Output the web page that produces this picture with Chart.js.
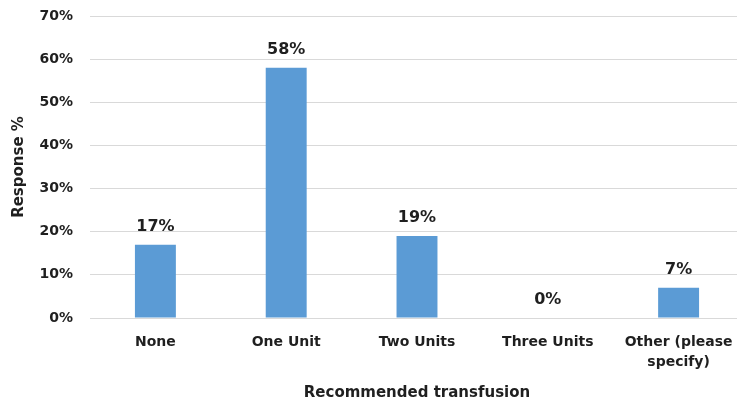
<!DOCTYPE html>
<html>
<head>
<meta charset="utf-8">
<script src="https://cdn.jsdelivr.net/npm/chart.js@4"></script>
<style>
html,body{margin:0;padding:0;overflow:hidden;background:#fff;}
#wrap{width:744px;height:403px;}
</style>
</head>
<body>
<div id="wrap"><canvas id="c" width="744" height="403"></canvas></div>
<script>
const categories = ["None", "One Unit", "Two Units", "Three Units", ["Other (please", "specify)"]];
const responsePct = [17, 58, 19, 0, 7];
const yTicks = [0, 10, 20, 30, 40, 50, 60, 70];

const FONT = "'DejaVu Sans', Verdana, sans-serif";
const TXT = '#1f1f1f';

const labelPlugin = {
  id: 'barLabels',
  afterDatasetsDraw(chart) {
    const ctx = chart.ctx;
    const meta = chart.getDatasetMeta(0);
    ctx.save();
    ctx.font = "bold 16px " + FONT;
    ctx.fillStyle = TXT;
    ctx.textAlign = 'center';
    ctx.textBaseline = 'alphabetic';
    meta.data.forEach((bar, i) => {
      ctx.fillText(responsePct[i] + '%', bar.x, bar.y - 14);
    });
    ctx.restore();
  }
};

new Chart(document.getElementById('c'), {
  type: 'bar',
  data: {
    labels: categories,
    datasets: [{
      data: responsePct,
      backgroundColor: '#5B9BD5',
      borderWidth: 0,
      categoryPercentage: 1,
      barPercentage: 0.313
    }]
  },
  options: {
    responsive: false,
    animation: false,
    devicePixelRatio: 1,
    layout: { padding: { top: 16, right: 0, left: 0, bottom: 0 } },
    plugins: { legend: { display: false }, tooltip: { enabled: false } },
    scales: {
      x: {
        grid: { display: false, drawTicks: false },
        border: { display: false },
        ticks: {
          color: TXT,
          font: { family: FONT, size: 14, weight: 'bold', lineHeight: 1.4 },
          padding: 15,
          maxRotation: 0,
          autoSkip: false
        },
        title: {
          display: true,
          text: 'Recommended transfusion',
          color: TXT,
          font: { family: FONT, size: 15, weight: 'bold' },
          padding: { top: 4, bottom: 1 }
        },
        afterFit(scale) { scale.height = 85; scale.paddingLeft = 0; scale.paddingRight = 0; }
      },
      y: {
        min: 0, max: 70,
        afterBuildTicks(scale) { scale.ticks = yTicks.map(v => ({ value: v })); },
        grid: { color: '#d9d9d9', lineWidth: 1, drawTicks: false },
        border: { display: false },
        ticks: {
          color: TXT,
          font: { family: FONT, size: 14, weight: 'bold' },
          padding: 17,
          callback: v => v + '%'
        },
        title: {
          display: true,
          text: 'Response %',
          color: TXT,
          font: { family: FONT, size: 15, weight: 'bold' },
          padding: { top: 10, bottom: 0 }
        },
        afterFit(scale) { scale.width = 90; scale.paddingTop = 0; scale.paddingBottom = 0; }
      }
    }
  },
  plugins: [labelPlugin]
});
</script>
</body>
</html>
